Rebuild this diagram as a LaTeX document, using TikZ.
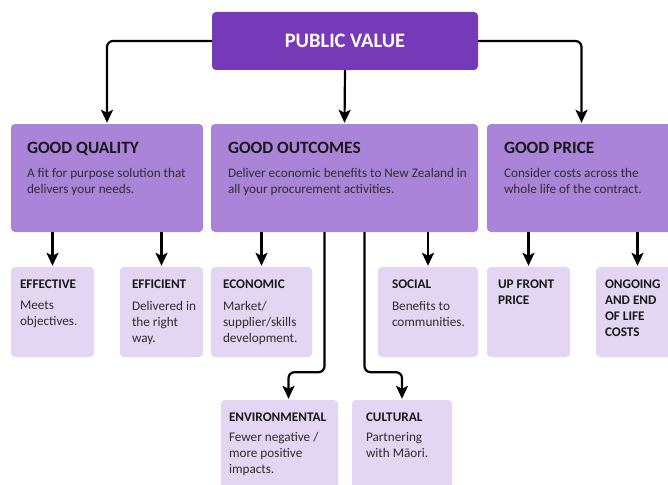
\documentclass[tikz,border=0pt]{standalone}
\usepackage{fontspec}
\setmainfont{Carlito}
\usetikzlibrary{arrows.meta,positioning}
\definecolor{pvdark}{HTML}{763AB8}
\definecolor{pvmid}{HTML}{A984D9}
\definecolor{pvlight}{HTML}{E2D6F2}
\definecolor{pvtext}{HTML}{2E2E2E}

\begin{document}
\begin{tikzpicture}[
    x=1pt, y=-1pt,
    topbox/.style={rectangle, rounded corners=4pt, fill=pvdark, text=white, font=\fontsize{20.5}{24}\selectfont\bfseries, minimum width=266pt, minimum height=58pt},
    pillar/.style={rectangle, rounded corners=4pt, fill=pvmid, minimum height=108pt},
    leaf/.style={rectangle, rounded corners=4pt, fill=pvlight, minimum height=90pt},
    pillarhead/.style={inner sep=0pt, font=\fontsize{17.3}{20}\selectfont\bfseries, text=black!90},
    pillarbody/.style={inner sep=0pt, align=left, font=\fontsize{13.2}{16}\selectfont, text=pvtext},
    leafhead/.style={inner sep=0pt, align=left, font=\fontsize{13.2}{16}\selectfont\bfseries, text=black!90},
    leafbody/.style={inner sep=0pt, align=left, font=\fontsize{13.2}{16}\selectfont, text=pvtext},
    arrow/.style={-{Stealth[length=13pt,width=12pt,inset=3pt]}, line width=2.2pt, rounded corners=6pt, shorten >=1pt}
  ]
    \useasboundingbox (0,0) rectangle (668,484);
    \fill[white] (0,0) rectangle (668,484);

    % Top: public value
    \node[topbox] (pv) at (345,41) {PUBLIC VALUE};

    % Row 1: the three pillars
    \node[pillar, minimum width=192pt] (quality) at (107,178) {};
    \node[pillar, minimum width=267pt] (outcomes) at (344.5,178) {};
    \node[pillar, minimum width=189pt] (price) at (581.5,178) {};

    \node[pillarhead, below right=18pt and 16pt of quality.north west] (qualityh) {GOOD QUALITY};
    \node[pillarbody, below right=44pt and 16pt of quality.north west] (qualityb) {A fit for purpose solution that\\delivers your needs.};
    \node[pillarhead, below right=18pt and 17pt of outcomes.north west] (outcomesh) {GOOD OUTCOMES};
    \node[pillarbody, below right=44pt and 17pt of outcomes.north west] (outcomesb) {Deliver economic benefits to New Zealand in\\all your procurement activities.};
    \node[pillarhead, below right=18pt and 17pt of price.north west] (priceh) {GOOD PRICE};
    \node[pillarbody, below right=44pt and 17pt of price.north west] (priceb) {Consider costs across the\\whole life of the contract.};

    \draw[arrow] (pv.west) -| (quality.north);
    \draw[arrow] (pv.south) -- (outcomes.north);
    \draw[arrow] (pv.east) -| (price.north);

    % Row 2: leaves under each pillar
    \node[leaf, minimum width=83pt] (effective) at (52.5,312) {};
    \node[leaf, minimum width=83pt] (efficient) at (161.5,312) {};
    \node[leaf, minimum width=101pt] (economic) at (261.5,312) {};
    \node[leaf, minimum width=100pt] (social) at (428,312) {};
    \node[leaf, minimum width=83pt] (upfront) at (528.5,312) {};
    \node[leaf, minimum width=83pt] (ongoing) at (637.5,312) {};

    \node[leafhead, below right=13pt and 9pt of effective.north west] (effectiveh) {EFFECTIVE};
    \node[leafbody, below right=34pt and 9pt of effective.north west] (effectiveb) {Meets\\objectives.};
    \node[leafhead, below right=13pt and 12pt of efficient.north west] (efficienth) {EFFICIENT};
    \node[leafbody, below right=34pt and 12pt of efficient.north west] (efficientb) {Delivered in\\the right\\way.};
    \node[leafhead, below right=13pt and 12pt of economic.north west] (economich) {ECONOMIC};
    \node[leafbody, below right=34pt and 12pt of economic.north west] (economicb) {Market/\\supplier/skills\\development.};
    \node[leafhead, below right=13pt and 14pt of social.north west] (socialh) {SOCIAL};
    \node[leafbody, below right=34pt and 14pt of social.north west] (socialb) {Benefits to\\communities.};
    \node[leafhead, below right=13pt and 11pt of upfront.north west] (upfronth) {UP FRONT\\PRICE};
    \node[leafhead, below right=13pt and 9pt of ongoing.north west] (ongoingh) {ONGOING\\AND END\\OF LIFE\\COSTS};

    \draw[arrow] (effective.north |- quality.south) -- (effective.north);
    \draw[arrow] (efficient.north |- quality.south) -- (efficient.north);
    \draw[arrow] (economic.north |- outcomes.south) -- (economic.north);
    \draw[arrow] (social.north |- outcomes.south) -- (social.north);
    \draw[arrow] (upfront.north |- price.south) -- (upfront.north);
    \draw[arrow] (ongoing.north |- price.south) -- (ongoing.north);

    % Row 3: the two outcomes hanging lower
    \node[leaf, minimum width=117pt, minimum height=92pt] (env) at (279.5,446) {};
    \node[leaf, minimum width=100pt, minimum height=92pt] (cultural) at (402,446) {};

    \node[leafhead, below right=13pt and 8pt of env.north west] (envh) {ENVIRONMENTAL};
    \node[leafbody, below right=32pt and 8pt of env.north west] (envb) {Fewer negative /\\more positive\\impacts.};
    \node[leafhead, below right=13pt and 14pt of cultural.north west] (culturalh) {CULTURAL};
    \node[leafbody, below right=32pt and 14pt of cultural.north west] (culturalb) {Partnering\\with Māori.};

    \draw[arrow] ([xshift=-20pt]outcomes.south) -- ++(0,140) -| ([xshift=9pt]env.north);
    \draw[arrow] ([xshift=20pt]outcomes.south) -- ++(0,140) -| (cultural.north);
  \end{tikzpicture}
\end{document}
